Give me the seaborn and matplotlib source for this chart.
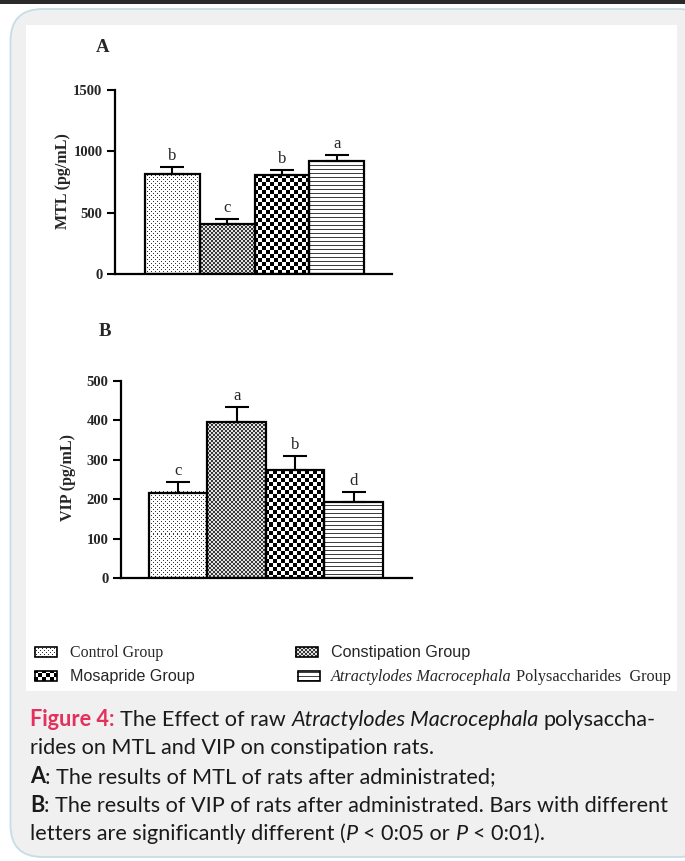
import numpy as np
import pandas as pd
import matplotlib
matplotlib.use("Agg")
import matplotlib.pyplot as plt
from matplotlib.patches import Rectangle, FancyBboxPatch
import seaborn as sns

# ---- data -------------------------------------------------------------
groups = ["Control Group", "Constipation Group", "Mosapride Group",
          "Atractylodes Macrocephala Polysaccharides Group"]
mtl_mean = [818, 410, 804, 924]
mtl_err = [54, 41, 44, 49]
mtl_letters = ["b", "c", "b", "a"]
vip_mean = [217, 395, 274, 194]
vip_err = [27, 40, 36, 24]
vip_letters = ["c", "a", "b", "d"]
mtl_ticks = [0, 500, 1000, 1500]
vip_ticks = [0, 100, 200, 300, 400, 500]
fills = ["dots", "fine", "checker", "hlines"]

df = pd.DataFrame({"group": groups, "mtl": mtl_mean, "mtl_err": mtl_err,
                   "vip": vip_mean, "vip_err": vip_err})

sns.set_theme(style="white")
plt.rcParams["font.family"] = ["DejaVu Sans"]

SERIF = "Liberation Serif"
SANS = "Liberation Sans"
CAP = "Lato"

W, H = 685, 861
fig = plt.figure(figsize=(W / 100, H / 100), dpi=100)

# background canvas in pixel units (y grows downward)
bg = fig.add_axes([0, 0, 1, 1], zorder=-5)
bg.set_xlim(0, W)
bg.set_ylim(H, 0)
bg.axis("off")
bg.add_patch(Rectangle((0, 0), W, 3.5, color="#2a2a2a", lw=0))
bg.add_patch(FancyBboxPatch((10.5, 9), 700, 848,
                            boxstyle="round,pad=0,rounding_size=32",
                            fc="#f0f0f0", ec="#c6dde9", lw=1.3))
bg.add_patch(Rectangle((26, 25), 651, 666, fc="white", ec="none"))


def pattern(kind, h, w):
    yy, xx = np.mgrid[0:h, 0:w]
    if kind == "dots":
        t = np.ones((h, w))
        t[((yy % 4 == 0) & (xx % 4 == 0)) | ((yy % 4 == 2) & (xx % 4 == 2))] = 0.2
    elif kind == "fine":
        t = np.where(((yy // 2 + xx // 2) % 2) == 0, 0.22, 0.88)
    elif kind == "checker":
        t = np.where(((yy // 4 + xx // 4) % 2) == 0, 0.0, 1.0)
    else:
        t = np.where(yy % 4 == 0, 0.25, 1.0)
    return t


def fill_texture(ax, patch, kind, renderer, z):
    # texture image snapped to whole device pixels, clipped to the patch
    bb = patch.get_window_extent(renderer)
    X0, X1 = int(np.floor(bb.x0)), int(np.ceil(bb.x1))
    Y0, Y1 = int(np.floor(bb.y0)), int(np.ceil(bb.y1))
    inv = ax.transData.inverted()
    (dx0, dy0), (dx1, dy1) = inv.transform([(X0, Y0), (X1, Y1)])
    xl, yl = ax.get_xlim(), ax.get_ylim()
    ax.imshow(pattern(kind, max(Y1 - Y0, 1), max(X1 - X0, 1)), cmap="gray",
              vmin=0, vmax=1, interpolation="nearest",
              extent=(dx0, dx1, dy0, dy1), origin="lower",
              aspect="auto", clip_path=patch, zorder=z)
    ax.set_xlim(xl)
    ax.set_ylim(yl)


def panel(rect, col, err_col, letters, ticks, xlim, label, label_xy):
    ax = fig.add_axes(rect)
    sns.barplot(data=df, x="group", y=col, ax=ax, width=1.0, color="white",
                edgecolor="black", linewidth=1.6, errorbar=None, saturation=1)
    x = np.arange(len(df))
    ax.errorbar(x, df[col], yerr=[np.zeros(len(df)), df[err_col]], fmt="none",
                ecolor="black", elinewidth=1.5, capsize=8.5, capthick=1.5,
                zorder=4)
    for i, (m, e, s) in enumerate(zip(df[col], df[err_col], letters)):
        ax.annotate(s, (i, m + e), xytext=(0, 2), textcoords="offset points",
                    ha="center", va="bottom", fontfamily=SERIF, fontsize=12)
    ax.set_xlim(*xlim)
    ax.set_ylim(ticks[0], ticks[-1])
    ax.set_yticks(ticks)
    ax.set_xticks([])
    ax.set_xlabel("")
    ax.set_ylabel(label, fontfamily=SERIF, fontweight="bold", fontsize=11.5,
                  va="center")
    ax.yaxis.set_label_coords(*label_xy)
    for lbl in ax.get_yticklabels():
        lbl.set_fontfamily(SERIF)
        lbl.set_fontweight("bold")
        lbl.set_fontsize(10.5)
    ax.tick_params(axis="y", left=True, length=6, width=1.5, pad=3,
                   direction="out", color="black")
    sns.despine(ax=ax)
    for s in ("left", "bottom"):
        ax.spines[s].set_linewidth(1.6)
        ax.spines[s].set_color("black")
    ax.patch.set_alpha(0)
    return ax


def frac(x0, y0, x1, y1):
    return [x0 / W, 1 - y1 / H, (x1 - x0) / W, (y1 - y0) / H]


ax_a = panel(frac(115, 90, 392, 274), "mtl", "mtl_err", mtl_letters,
             mtl_ticks, (-1.05, 4.01), "MTL (pg/mL)", (-0.188, 0.505))
ax_b = panel(frac(121, 381, 412, 578), "vip", "vip_err", vip_letters,
             vip_ticks, (-0.98, 4.0), "VIP (pg/mL)", (-0.182, 0.51))

bg.text(103, 47, "A", fontfamily=SERIF, fontweight="bold", fontsize=13.5,
        ha="center", va="center")
bg.text(105, 331, "B", fontfamily=SERIF, fontweight="bold", fontsize=13.5,
        ha="center", va="center")

fig.canvas.draw()
r = fig.canvas.get_renderer()

# pattern fills inside the bars
for ax in (ax_a, ax_b):
    bars = [p for p in ax.patches if isinstance(p, Rectangle)][:len(fills)]
    for p, kind in zip(bars, fills):
        fill_texture(ax, p, kind, r, 2)
        p.set_facecolor("none")
        p.set_zorder(3)


# ---- mixed-style text runs ---------------------------------------------
def measure(text, size, family, style):
    t = bg.text(0, 0, text, fontsize=size, fontfamily=family, **style)
    w = t.get_window_extent(r).width
    t.remove()
    return w


def space_w(size, family, style):
    return measure("n n", size, family, style) - measure("nn", size, family, style)


def runs_width(runs, size, family):
    total = 0
    for text, style in runs:
        core = text.strip(" ")
        lead = len(text) - len(text.lstrip(" "))
        trail = len(text) - len(text.rstrip(" "))
        sp = space_w(size, family, style)
        total += (lead + trail) * sp
        if core:
            total += measure(core, size, family, style)
    return total


def draw_runs(x, y, runs, size, family):
    for text, style in runs:
        core = text.strip(" ")
        lead = len(text) - len(text.lstrip(" "))
        trail = len(text) - len(text.rstrip(" "))
        sp = space_w(size, family, style)
        x += lead * sp
        if core:
            t = bg.text(x, y, core, fontsize=size, fontfamily=family,
                        ha="left", va="baseline", **style)
            x += t.get_window_extent(r).width
        x += trail * sp
    return x


def fit(runs, family, target):
    return 10 * target / runs_width(runs, 10, family)


N = {}
IT = {"fontstyle": "italic"}
BD = {"fontweight": "bold"}

# ---- legend --------------------------------------------------------------
legend_items = [
    ((35, 647), [("Control Group", N)], SERIF, 93, (70, 657)),
    ((296, 647), [("Constipation Group", N)], SANS, 139, (331, 657)),
    ((35, 671), [("Mosapride Group", N)], SANS, 125, (70, 681)),
    ((298, 671), [("Atractylodes Macrocephala", IT),
                  (" Polysaccharides  Group", N)], SERIF, 340, (331, 681)),
]
for kind, ((sx, sy), runs, fam, target, (tx, ty)) in zip(fills, legend_items):
    sw = Rectangle((sx, sy), 22, 10, fc="white", ec="black", lw=1.2, zorder=3)
    bg.add_patch(sw)
    fill_texture(bg, sw, kind, r, 2)
    sw.set_facecolor("none")
    draw_runs(tx, ty, runs, fit(runs, fam, target), fam)

# ---- caption -------------------------------------------------------------
RED = {"fontweight": "bold", "color": "#e3305c"}
caption = [
    [("Figure 4:", RED), (" The Effect of raw ", N),
     ("Atractylodes Macrocephala", IT), (" polysaccha-", N)],
    [("rides on MTL and VIP on constipation rats.", N)],
    [("A", BD), (": The results of MTL of rats after administrated;", N)],
    [("B", BD), (": The results of VIP of rats after administrated. Bars with different", N)],
    [("letters are significantly different (", N), ("P", IT), (" < 0:05 or ", N),
     ("P", IT), (" < 0:01).", N)],
]
cap_size = fit(caption[3], CAP, 638)
for k, line in enumerate(caption):
    styled = [(text, dict(style, color=style.get("color", "#1a1a1a")))
              for text, style in line]
    draw_runs(30, 726 + k * 28.5, styled, cap_size, CAP)

fig.savefig("out.png", dpi=100)
